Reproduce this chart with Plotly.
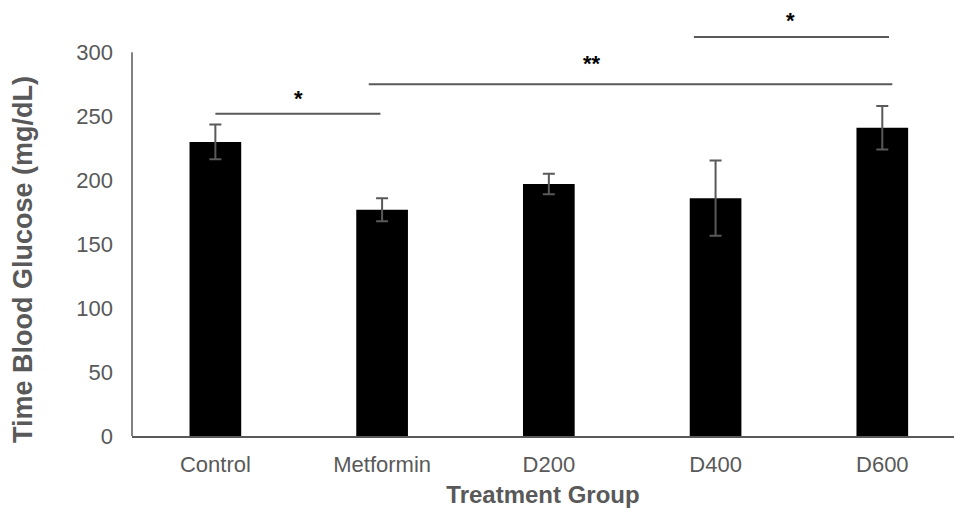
import plotly.graph_objects as go

# Mean blood glucose per treatment group with standard error
groups = ["Control", "Metformin", "D200", "D400", "D600"]
glucose = [230, 177, 197, 186, 241]
glucose_err = [13.5, 9, 8, 29.5, 17]

# Significance brackets: (start index, end index, bracket level, label, label x, label level)
brackets = [
    (0.0, 0.99, 252, "*", 0.5, 264),
    (0.92, 4.06, 275, "**", 2.26, 291),
    (2.87, 4.04, 312, "*", 3.45, 325),
]

GREY = "#595959"

fig = go.Figure()
fig.add_trace(go.Bar(
    x=groups,
    y=glucose,
    marker=dict(color="black", line=dict(width=0)),
    width=0.31,
    error_y=dict(type="data", array=glucose_err, color=GREY, thickness=2, width=6),
))

shapes = [
    # y axis line, stopping at the top tick
    dict(type="line", xref="paper", yref="y", x0=0, x1=0, y0=0, y1=300,
         line=dict(color=GREY, width=1.5)),
]
annotations = [
    # y axis title, centred a little below the plot-area middle
    dict(text="<b>Time Blood Glucose (mg/dL)</b>", textangle=-90,
         xref="paper", yref="paper", x=-0.1326, y=0.417,
         xanchor="center", yanchor="middle", showarrow=False,
         font=dict(size=27, color=GREY)),
]
for x0, x1, lvl, label, lab_x, lab_y in brackets:
    shapes.append(dict(type="line", xref="x", yref="y", x0=x0, x1=x1, y0=lvl, y1=lvl,
                       line=dict(color=GREY, width=2)))
    annotations.append(dict(x=lab_x, y=lab_y, xref="x", yref="y",
                            text=f"<b>{label}</b>", showarrow=False,
                            font=dict(size=22, color="black")))

fig.update_layout(
    width=954, height=510,
    margin=dict(l=132, r=0, t=14, b=74),
    plot_bgcolor="white", paper_bgcolor="white",
    font=dict(family="Liberation Sans, Arial, sans-serif", color=GREY),
    showlegend=False,
    shapes=shapes,
    annotations=annotations,
    xaxis=dict(
        range=[-0.5, 4.43],
        showline=True, linecolor=GREY, linewidth=1.5,
        showgrid=False, ticks="",
        tickfont=dict(size=22, color=GREY),
        ticklabelstandoff=8,
        title=dict(text="<b>Treatment Group</b>", font=dict(size=24, color=GREY), standoff=10),
    ),
    yaxis=dict(
        range=[0, 330],
        tickvals=[0, 50, 100, 150, 200, 250, 300],
        showline=False, showgrid=False, zeroline=False, ticks="",
        tickfont=dict(size=22, color=GREY),
        ticklabelstandoff=18,
    ),
)

fig.write_html("out.html")
